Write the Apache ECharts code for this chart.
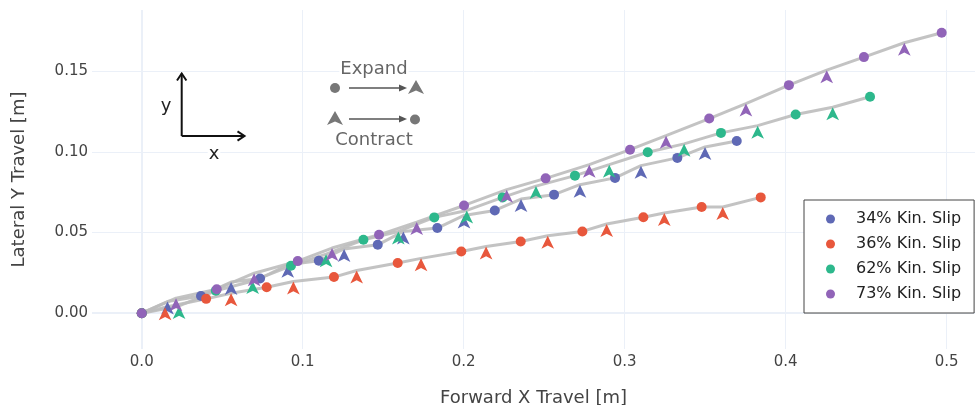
<!DOCTYPE html>
<html><head><meta charset="utf-8">
<script src="https://cdn.jsdelivr.net/npm/echarts@6/dist/echarts.min.js"></script>
<style>html,body{margin:0;padding:0;background:#fff}#c{width:979px;height:405px}</style>
</head><body><div id="c"></div>
<script>
// Series names and colours
const seriesNames = ['34% Kin. Slip', '36% Kin. Slip', '62% Kin. Slip', '73% Kin. Slip'];
const seriesColors = ['#5f69b5', '#e8573c', '#2db88c', '#9164b8'];

// Trajectory points, alternating: expand (circle), contract (triangle), ...
const slip34 = [[0,0],[0.016,0.0072],[0.0368,0.0107],[0.0555,0.0193],[0.0735,0.0215],[0.0907,0.030],[0.110,0.0325],[0.1257,0.0398],[0.1466,0.0424],[0.1625,0.0507],[0.1836,0.0528],[0.2002,0.0606],[0.2193,0.0637],[0.2356,0.0708],[0.2561,0.0735],[0.2722,0.0797],[0.294,0.0839],[0.3101,0.0915],[0.3327,0.0963],[0.3499,0.1031],[0.3696,0.1068]];
const slip36 = [[0,0],[0.0145,0.0037],[0.040,0.0089],[0.0555,0.0124],[0.0776,0.0161],[0.0942,0.0196],[0.1194,0.0224],[0.1335,0.0265],[0.159,0.0311],[0.1735,0.0340],[0.1985,0.0383],[0.2139,0.0414],[0.2354,0.0445],[0.2522,0.0480],[0.2737,0.0507],[0.2888,0.0553],[0.3116,0.0595],[0.3246,0.0621],[0.3478,0.0658],[0.3609,0.0658],[0.3845,0.0718]];
const slip62 = [[0,0],[0.0232,0.0045],[0.046,0.0139],[0.0689,0.0200],[0.0927,0.0294],[0.1145,0.0366],[0.1377,0.0455],[0.1594,0.0507],[0.1817,0.0594],[0.2019,0.0637],[0.2242,0.0718],[0.2449,0.0788],[0.2691,0.0853],[0.2904,0.0921],[0.3143,0.0998],[0.3369,0.1050],[0.3598,0.1118],[0.3826,0.1163],[0.4062,0.1232],[0.4292,0.1277],[0.4524,0.1342]];
const slip73 = [[0,0],[0.0213,0.0093],[0.0466,0.0149],[0.0698,0.0248],[0.0969,0.0323],[0.1182,0.0404],[0.1474,0.0486],[0.1708,0.0565],[0.2002,0.0668],[0.2267,0.0766],[0.2509,0.0836],[0.278,0.0921],[0.3033,0.1014],[0.3257,0.1101],[0.3525,0.1207],[0.3753,0.1300],[0.402,0.1414],[0.4255,0.1507],[0.4486,0.1588],[0.4737,0.1677],[0.4969,0.1739]];

// Axis ticks
const xTicks = [0, 0.1, 0.2, 0.3, 0.4, 0.5];
const yTicks = [0, 0.05, 0.1, 0.15];

const allSeries = [slip34, slip36, slip62, slip73];
const FONT = 'DejaVu Sans';
const GRID = '#ebf0f8';

const series = [];
allSeries.forEach((pts, i) => {
  const s = {
    type: 'line', name: 'path' + i, data: pts, symbol: 'none', silent: true,
    lineStyle: { color: 'rgba(188,188,188,0.9)', width: 3 }, z: 2
  };
  if (i === 0) {
    s.markLine = {
      silent: true, symbol: 'none', label: { show: false },
      lineStyle: { color: GRID, width: 2, type: 'solid' },
      data: [{ yAxis: 0 }, { xAxis: 0 }], z: 1
    };
  }
  series.push(s);
});
allSeries.forEach((pts, i) => {
  series.push({
    type: 'scatter', name: seriesNames[i], symbol: 'circle', symbolSize: 10, z: 5,
    itemStyle: { color: seriesColors[i], opacity: 1 },
    data: pts.filter((p, k) => k % 2 === 0)
  });
  series.push({
    type: 'scatter', name: 'contract' + i, symbol: 'arrow', symbolSize: [9.5, 13], z: 5,
    itemStyle: { color: seriesColors[i], opacity: 1 },
    data: pts.filter((p, k) => k % 2 === 1)
  });
});

const chart = echarts.init(document.getElementById('c'), null, { renderer: 'canvas' });
const arrowShape = (cx, top, w, h) => [[cx, top], [cx + w / 2, top + h], [cx, top + h * 0.75], [cx - w / 2, top + h]];
const annText = (t, x, y, color) => ({ type: 'text', x: x, y: y, z: 10, style: { text: t, fontSize: 18, fill: color, fontFamily: FONT, align: 'center', verticalAlign: 'middle', backgroundColor: '#fff', padding: [0, 1] } });
chart.setOption({
  animation: false,
  backgroundColor: '#fff',
  grid: { left: 92, right: 4, top: 10, bottom: 56, containLabel: false, outerBoundsMode: 'none' },
  xAxis: {
    type: 'value', min: -0.0309, max: 0.5176,
    name: 'Forward X Travel [m]', nameLocation: 'middle', nameGap: 40,
    nameTextStyle: { fontSize: 18, color: '#444', fontFamily: FONT },
    axisLine: { show: false }, axisTick: { show: false, customValues: xTicks },
    axisLabel: { customValues: xTicks, formatter: v => v.toFixed(1), fontSize: 15, color: '#444', fontFamily: FONT, margin: 6 },
    splitLine: { show: true, lineStyle: { color: GRID, width: 1 } }
  },
  yAxis: {
    type: 'value', min: -0.0222, max: 0.188,
    name: 'Lateral Y Travel [m]', nameLocation: 'middle', nameGap: 64, nameRotate: 90,
    nameTextStyle: { fontSize: 18, color: '#444', fontFamily: FONT },
    axisLine: { show: false }, axisTick: { show: false, customValues: yTicks },
    axisLabel: { customValues: yTicks, formatter: v => v.toFixed(2), fontSize: 15, color: '#444', fontFamily: FONT, margin: 4 },
    splitLine: { show: true, lineStyle: { color: GRID, width: 1 } }
  },
  legend: {
    data: seriesNames, orient: 'vertical', left: 804, top: 200,
    icon: 'circle', itemWidth: 9, itemHeight: 9, itemGap: 9,
    padding: [11, 13, 11, 22], borderColor: '#444', borderWidth: 1, backgroundColor: '#fff',
    textStyle: { fontSize: 16, color: '#222', fontFamily: FONT, lineHeight: 16, padding: [0, 0, 0, 16] }
  },
  graphic: [
    { type: 'line', shape: { x1: 181.7, y1: 136, x2: 181.7, y2: 73.5 }, style: { stroke: '#111', lineWidth: 2 } },
    { type: 'polyline', shape: { points: [[177, 80.5], [181.7, 73.5], [186.4, 80.5]] }, style: { stroke: '#111', lineWidth: 2, fill: null } },
    { type: 'line', shape: { x1: 181.7, y1: 136, x2: 244, y2: 136 }, style: { stroke: '#111', lineWidth: 2 } },
    { type: 'polyline', shape: { points: [[237.5, 131.3], [244.5, 136], [237.5, 140.7]] }, style: { stroke: '#111', lineWidth: 2, fill: null } },
    annText('y', 166, 106, '#222'),
    annText('x', 214, 154, '#222'),
    annText('Expand', 374, 69, '#666'),
    { type: 'circle', shape: { cx: 335, cy: 88, r: 5 }, style: { fill: '#777' } },
    { type: 'line', shape: { x1: 349, y1: 88, x2: 401, y2: 88 }, style: { stroke: '#555', lineWidth: 1.5 } },
    { type: 'polygon', shape: { points: [[399, 84.5], [407, 88], [399, 91.5]] }, style: { fill: '#555' } },
    { type: 'polygon', shape: { points: arrowShape(416, 80, 16, 14) }, style: { fill: '#777' } },
    { type: 'polygon', shape: { points: arrowShape(335, 111, 16, 14) }, style: { fill: '#777' } },
    { type: 'line', shape: { x1: 349, y1: 119, x2: 401, y2: 119 }, style: { stroke: '#555', lineWidth: 1.5 } },
    { type: 'polygon', shape: { points: [[399, 115.5], [407, 119], [399, 122.5]] }, style: { fill: '#555' } },
    { type: 'circle', shape: { cx: 415, cy: 119.5, r: 5 }, style: { fill: '#777' } },
    annText('Contract', 374, 140, '#666')
  ],
  series: series
});
</script></body></html>
